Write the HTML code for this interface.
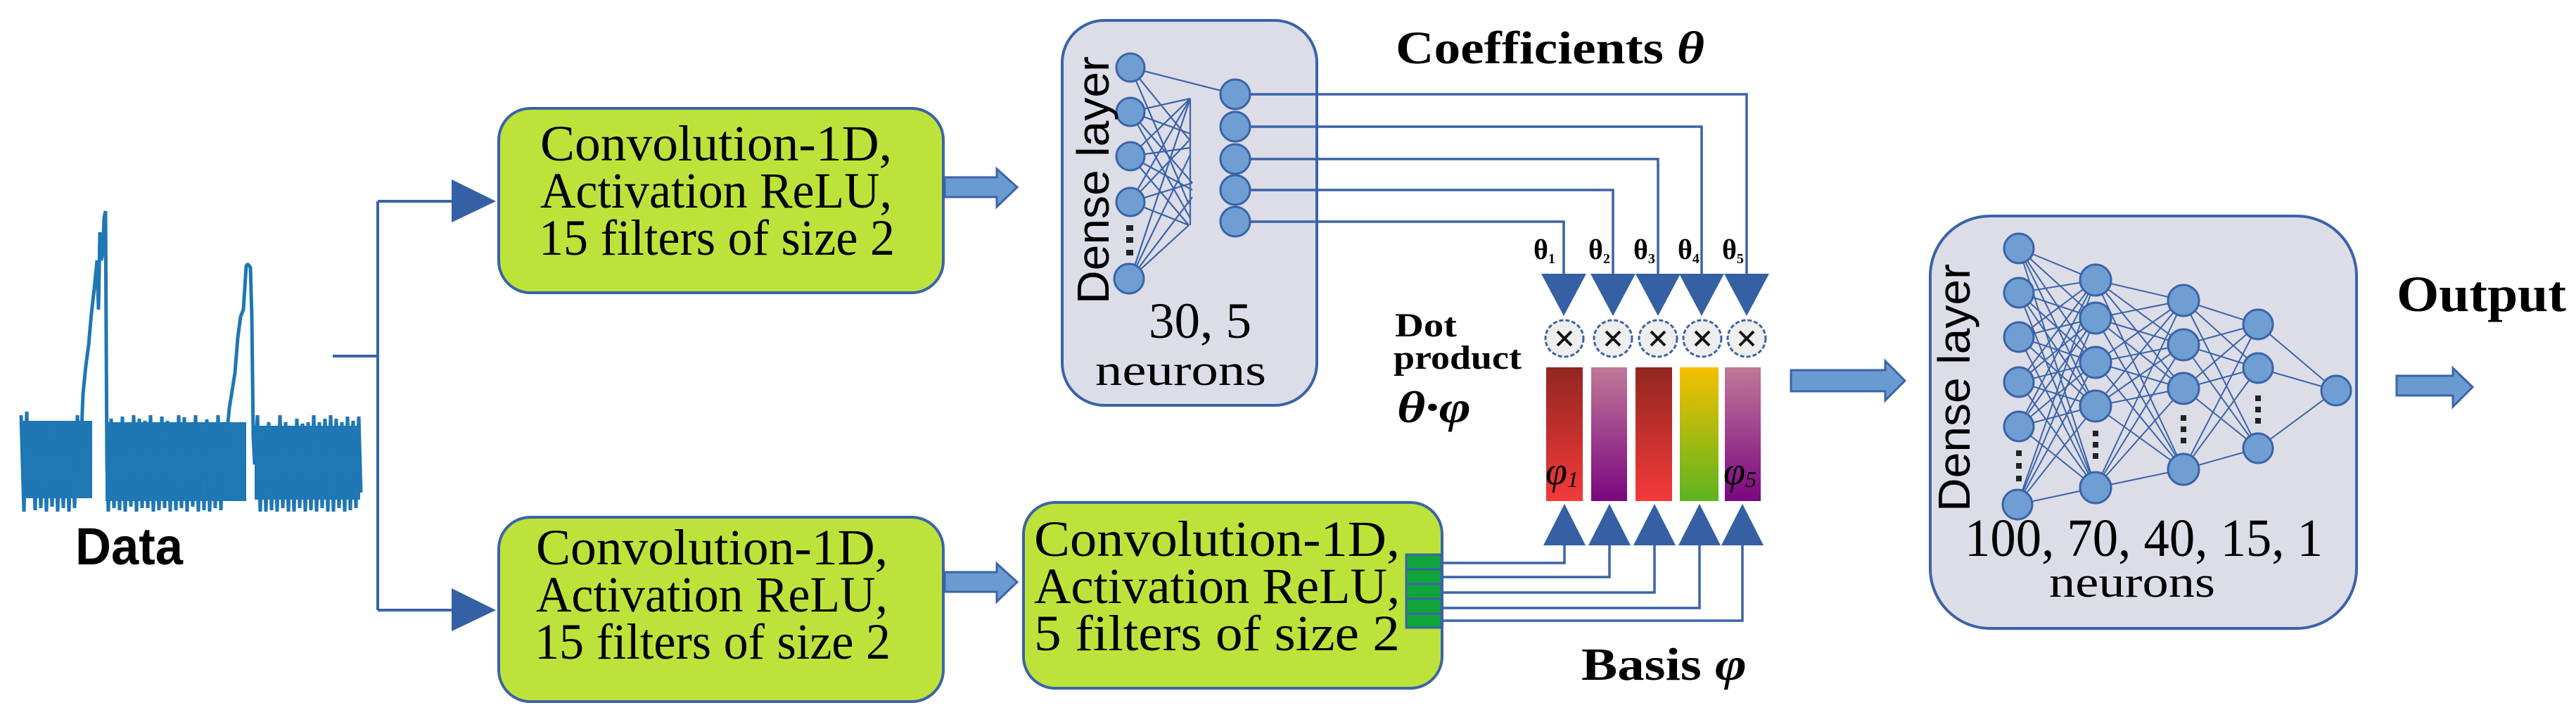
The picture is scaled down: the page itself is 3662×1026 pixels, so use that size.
<!DOCTYPE html>
<html><head><meta charset="utf-8"><style>
html,body{margin:0;padding:0;background:#fff;}
svg{display:block;}
.sr{font-family:"Liberation Serif",serif;fill:#000;}
.ss{font-family:"Liberation Sans",sans-serif;fill:#000;}
</style></head><body>
<svg width="3662" height="1026" viewBox="0 0 3662 1026" xmlns="http://www.w3.org/2000/svg">
<defs>
<linearGradient id="gr" x1="0" y1="0" x2="0" y2="1"><stop offset="0" stop-color="#922620"/><stop offset="1" stop-color="#f53a3a"/></linearGradient>
<linearGradient id="gp" x1="0" y1="0" x2="0" y2="1"><stop offset="0" stop-color="#c07898"/><stop offset="1" stop-color="#7a0780"/></linearGradient>
<linearGradient id="gy" x1="0" y1="0" x2="0" y2="1"><stop offset="0" stop-color="#f5c000"/><stop offset="1" stop-color="#5cb420"/></linearGradient>
</defs>

<!-- Data signal -->
<g fill="#1f77b4">
<rect x="31" y="598" width="100" height="110"/>
<rect x="150" y="600" width="200" height="112"/>
<rect x="362" y="605" width="150" height="105"/>
</g>
<polyline fill="none" stroke="#1f77b4" stroke-width="5" stroke-linejoin="bevel" points="30,590 34,727 38,585 42,700 46,620 50,725 54,602 58,722 62,612 66,727 70,600 74,720 78,620 82,727 86,605 90,722 94,600 98,727 102,612 106,722 110,590 114,660 118,560 122,520 126,490 130,445 134,410 138,370 140,440 142,330 144,370 146,360 148,310 150,300 152,660 154,727 158,595 162,722 166,600 170,725 174,592 178,727 182,600 186,720 190,590 194,727 198,595 202,722 206,598 210,722 214,590 218,727 222,600 226,725 230,592 234,722 238,598 242,727 246,600 250,725 254,590 258,722 262,593 266,727 270,600 274,720 278,590 282,727 286,600 290,725 294,596 298,727 302,600 306,722 310,590 314,725 318,600 322,620 326,580 330,555 334,530 338,480 342,450 346,440 350,378 352,375 356,380 358,450 360,620 362,660 366,590 370,727 374,610 378,727 382,600 386,725 390,612 394,727 398,590 402,722 406,600 410,727 414,610 418,727 422,595 426,722 430,602 434,727 438,600 442,725 446,590 450,727 454,600 458,722 462,595 466,727 470,590 474,727 478,595 482,722 486,600 490,727 494,592 498,725 502,598 506,722 510,592 513,700"/>
<text class="ss" x="107" y="802" font-size="74" font-weight="bold" textLength="153" lengthAdjust="spacingAndGlyphs">Data</text>

<!-- branch connector -->
<g stroke="#3b63a8" stroke-width="4" fill="none">
<line x1="473" y1="506" x2="539" y2="506"/>
<line x1="537" y1="286" x2="537" y2="867"/>
<line x1="537" y1="286" x2="650" y2="286"/>
<line x1="537" y1="867" x2="650" y2="867"/>
</g>
<polygon points="642,255 705,286 642,316" fill="#3560a3"/>
<polygon points="642,836 705,867 642,897" fill="#3560a3"/>

<!-- green boxes -->
<g fill="#bde33b" stroke="#3b63a8" stroke-width="4">
<rect x="709" y="154" width="632" height="262" rx="45"/>
<rect x="709" y="735" width="632" height="262" rx="45"/>
<rect x="1455" y="714" width="595" height="264" rx="45"/>
</g>
<g class="sr" font-size="72">
<text x="768" y="228" textLength="500" lengthAdjust="spacingAndGlyphs">Convolution-1D,</text>
<text x="768" y="295" textLength="500" lengthAdjust="spacingAndGlyphs">Activation ReLU,</text>
<text x="766" y="362" textLength="506" lengthAdjust="spacingAndGlyphs">15 filters of size 2</text>
<text x="762" y="802" textLength="500" lengthAdjust="spacingAndGlyphs">Convolution-1D,</text>
<text x="762" y="869" textLength="500" lengthAdjust="spacingAndGlyphs">Activation ReLU,</text>
<text x="760" y="936" textLength="506" lengthAdjust="spacingAndGlyphs">15 filters of size 2</text>
<text x="1470" y="790" textLength="520" lengthAdjust="spacingAndGlyphs">Convolution-1D,</text>
<text x="1470" y="857" textLength="520" lengthAdjust="spacingAndGlyphs">Activation ReLU,</text>
<text x="1470" y="924" textLength="520" lengthAdjust="spacingAndGlyphs">5 filters of size 2</text>
</g>
<!-- green connector -->
<rect x="1999" y="788" width="50" height="104" fill="#10a53a" stroke="#3b63a8" stroke-width="3"/>
<g stroke="#3b63a8" stroke-width="3"><line x1="1999" y1="809" x2="2049" y2="809"/><line x1="1999" y1="830" x2="2049" y2="830"/><line x1="1999" y1="851" x2="2049" y2="851"/><line x1="1999" y1="872" x2="2049" y2="872"/></g>

<!-- block arrows -->
<g fill="#6a9bd0" stroke="#3b63a8" stroke-width="3">
<polygon points="1343,252 1417,252 1417,240 1446,266 1417,294 1417,280 1343,280"/>
<polygon points="1343,813 1417,813 1417,801 1446,827 1417,855 1417,841 1343,841"/>
<polygon points="2546,526 2680,526 2680,513 2708,541 2680,569 2680,556 2546,556"/>
<polygon points="3407,534 3487,534 3487,523 3515,550 3487,578 3487,562 3407,562"/>
</g>

<!-- Dense box 1 -->
<rect x="1510" y="29" width="362" height="547" rx="60" fill="#dddde8" stroke="#3b63a8" stroke-width="4"/>
<g stroke="#3b63a8" stroke-width="2.2">
<line x1="1607" y1="96" x2="1756" y2="134"/><line x1="1607" y1="96" x2="1692" y2="200"/><line x1="1607" y1="96" x2="1690" y2="290"/>
<line x1="1607" y1="159" x2="1692" y2="140"/><line x1="1607" y1="159" x2="1692" y2="190"/><line x1="1607" y1="159" x2="1695" y2="260"/><line x1="1607" y1="159" x2="1692" y2="310"/>
<line x1="1607" y1="222" x2="1692" y2="140"/><line x1="1607" y1="222" x2="1692" y2="210"/><line x1="1607" y1="222" x2="1695" y2="270"/><line x1="1607" y1="222" x2="1690" y2="320"/>
<line x1="1607" y1="287" x2="1692" y2="140"/><line x1="1607" y1="287" x2="1690" y2="200"/><line x1="1607" y1="287" x2="1695" y2="260"/><line x1="1607" y1="287" x2="1690" y2="320"/>
<line x1="1607" y1="396" x2="1692" y2="140"/><line x1="1607" y1="396" x2="1692" y2="220"/><line x1="1607" y1="396" x2="1695" y2="280"/><line x1="1607" y1="396" x2="1690" y2="320"/>
<line x1="1692" y1="140" x2="1692" y2="320"/>
</g>
<g fill="#6f9fd2" stroke="#3b63a8" stroke-width="3">
<circle cx="1607" cy="96" r="20"/><circle cx="1607" cy="159" r="20"/><circle cx="1607" cy="222" r="20"/><circle cx="1607" cy="287" r="20"/><circle cx="1605" cy="396" r="21"/>
<circle cx="1756" cy="134" r="21"/><circle cx="1756" cy="180" r="21"/><circle cx="1756" cy="226" r="21"/><circle cx="1756" cy="270" r="21"/><circle cx="1756" cy="315" r="21"/>
</g>
<g fill="#222"><rect x="1601" y="320" width="10" height="8"/><rect x="1601" y="337" width="10" height="8"/><rect x="1601" y="355" width="10" height="8"/></g>
<text class="ss" transform="translate(1576,432) rotate(-90)" font-size="64" textLength="352" lengthAdjust="spacingAndGlyphs">Dense layer</text>
<text class="sr" x="1633" y="480" font-size="72" textLength="146" lengthAdjust="spacingAndGlyphs">30, 5</text>
<text class="sr" x="1557" y="547" font-size="62" textLength="243" lengthAdjust="spacingAndGlyphs">neurons</text>

<!-- coefficient lines -->
<g stroke="#3b63a8" stroke-width="3.5" fill="none">
<polyline points="1777,315 2223,315 2223,395"/>
<polyline points="1777,270 2293,270 2293,395"/>
<polyline points="1777,226 2357,226 2357,395"/>
<polyline points="1777,180 2419,180 2419,395"/>
<polyline points="1777,134 2483,134 2483,395"/>
<polyline points="2049,800 2224,800 2224,770"/>
<polyline points="2049,820 2288,820 2288,770"/>
<polyline points="2049,842 2352,842 2352,770"/>
<polyline points="2049,864 2416,864 2416,770"/>
<polyline points="2049,882 2477,882 2477,770"/>
</g>
<text class="sr" x="1984" y="90" font-size="66" font-weight="bold" textLength="439" lengthAdjust="spacingAndGlyphs">Coefficients <tspan font-style="italic">θ</tspan></text>

<!-- theta labels -->
<g class="sr" font-size="40" font-weight="bold">
<text x="2180" y="368">θ<tspan font-size="20" dy="6">1</tspan></text>
<text x="2258" y="368">θ<tspan font-size="20" dy="6">2</tspan></text>
<text x="2322" y="368">θ<tspan font-size="20" dy="6">3</tspan></text>
<text x="2385" y="368">θ<tspan font-size="20" dy="6">4</tspan></text>
<text x="2448" y="368">θ<tspan font-size="20" dy="6">5</tspan></text>
</g>
<!-- down triangles -->
<g fill="#3560a3">
<polygon points="2191,389 2255,389 2223,449"/>
<polygon points="2261,389 2325,389 2293,449"/>
<polygon points="2325,389 2389,389 2357,449"/>
<polygon points="2387,389 2451,389 2419,449"/>
<polygon points="2451,389 2515,389 2483,449"/>
</g>
<!-- multiply circles -->
<g fill="#eeeeee" stroke="#3b63a8" stroke-width="3" stroke-dasharray="6 3">
<ellipse cx="2224" cy="481" rx="27" ry="26"/><ellipse cx="2293" cy="481" rx="27" ry="26"/><ellipse cx="2357" cy="481" rx="27" ry="26"/><ellipse cx="2420" cy="481" rx="27" ry="26"/><ellipse cx="2483" cy="481" rx="27" ry="26"/>
</g>
<g stroke="#111" stroke-width="4">
<path d="M2214,471 l20,20 M2234,471 l-20,20"/><path d="M2283,471 l20,20 M2303,471 l-20,20"/><path d="M2347,471 l20,20 M2367,471 l-20,20"/><path d="M2410,471 l20,20 M2430,471 l-20,20"/><path d="M2473,471 l20,20 M2493,471 l-20,20"/>
</g>
<!-- bars -->
<rect x="2198" y="522" width="52" height="190" fill="url(#gr)"/>
<rect x="2262" y="522" width="51" height="190" fill="url(#gp)"/>
<rect x="2325" y="522" width="52" height="190" fill="url(#gr)"/>
<rect x="2388" y="522" width="55" height="190" fill="url(#gy)"/>
<rect x="2452" y="522" width="51" height="190" fill="url(#gp)"/>
<text class="sr" x="2197" y="688" font-size="56" font-style="italic">φ<tspan font-size="32" dy="4">1</tspan></text>
<text class="sr" x="2450" y="688" font-size="56" font-style="italic" fill="#300030">φ<tspan font-size="32" dy="4">5</tspan></text>
<!-- up triangles -->
<g fill="#3560a3">
<polygon points="2194,775 2254,775 2224,716"/>
<polygon points="2258,775 2318,775 2288,716"/>
<polygon points="2322,775 2382,775 2352,716"/>
<polygon points="2386,775 2446,775 2416,716"/>
<polygon points="2447,775 2507,775 2477,716"/>
</g>
<g class="sr" font-weight="bold">
<text x="1983" y="478" font-size="48" textLength="88" lengthAdjust="spacingAndGlyphs">Dot</text>
<text x="1981" y="524" font-size="48" textLength="182" lengthAdjust="spacingAndGlyphs">product</text>
<text x="1986" y="600" font-size="64" font-style="italic" textLength="105" lengthAdjust="spacingAndGlyphs">θ·φ</text>
<text x="2248" y="966" font-size="66" textLength="235" lengthAdjust="spacingAndGlyphs">Basis <tspan font-style="italic">φ</tspan></text>
<text x="3407" y="442" font-size="72" textLength="241" lengthAdjust="spacingAndGlyphs">Output</text>
</g>

<!-- Dense box 2 -->
<rect x="2744" y="307" width="606" height="586" rx="85" fill="#dddde8" stroke="#3b63a8" stroke-width="4"/>
<g stroke="#3b63a8" stroke-width="2">
<path d="M2870,353 L2979,398 M2870,353 L2979,452 M2870,353 L2979,515 M2870,353 L2979,577 M2870,353 L2979,693
M2870,416 L2979,398 M2870,416 L2979,452 M2870,416 L2979,515 M2870,416 L2979,577 M2870,416 L2979,693
M2870,479 L2979,398 M2870,479 L2979,452 M2870,479 L2979,515 M2870,479 L2979,577 M2870,479 L2979,693
M2870,543 L2979,398 M2870,543 L2979,452 M2870,543 L2979,515 M2870,543 L2979,577 M2870,543 L2979,693
M2870,606 L2979,398 M2870,606 L2979,452 M2870,606 L2979,515 M2870,606 L2979,577 M2870,606 L2979,693
M2868,717 L2979,398 M2868,717 L2979,452 M2868,717 L2979,515 M2868,717 L2979,577 M2868,717 L2979,693"/>
<path d="M2979,398 L3104,427 M2979,398 L3104,490 M2979,398 L3104,552 M2979,398 L3104,667
M2979,452 L3104,427 M2979,452 L3104,490 M2979,452 L3104,552 M2979,452 L3104,667
M2979,515 L3104,427 M2979,515 L3104,490 M2979,515 L3104,552 M2979,515 L3104,667
M2979,577 L3104,427 M2979,577 L3104,490 M2979,577 L3104,552 M2979,577 L3104,667
M2979,693 L3104,427 M2979,693 L3104,490 M2979,693 L3104,552 M2979,693 L3104,667"/>
<path d="M3104,427 L3210,461 M3104,427 L3210,523 M3104,427 L3210,637
M3104,490 L3210,461 M3104,490 L3210,523 M3104,490 L3210,637
M3104,552 L3210,461 M3104,552 L3210,523 M3104,552 L3210,637
M3104,667 L3210,461 M3104,667 L3210,523 M3104,667 L3210,637"/>
<path d="M3210,461 L3321,555 M3210,523 L3321,555 M3210,637 L3321,555"/>
</g>
<g fill="#6f9fd2" stroke="#3b63a8" stroke-width="3">
<circle cx="2870" cy="353" r="21"/><circle cx="2870" cy="416" r="21"/><circle cx="2870" cy="479" r="21"/><circle cx="2870" cy="543" r="21"/><circle cx="2870" cy="606" r="21"/><circle cx="2868" cy="717" r="21"/>
<circle cx="2979" cy="398" r="22"/><circle cx="2979" cy="452" r="22"/><circle cx="2979" cy="515" r="22"/><circle cx="2979" cy="577" r="22"/><circle cx="2979" cy="693" r="22"/>
<circle cx="3104" cy="427" r="22"/><circle cx="3104" cy="490" r="22"/><circle cx="3104" cy="552" r="22"/><circle cx="3104" cy="667" r="22"/>
<circle cx="3210" cy="461" r="21"/><circle cx="3210" cy="523" r="21"/><circle cx="3210" cy="637" r="21"/>
<circle cx="3321" cy="555" r="21"/>
</g>
<g fill="#222">
<rect x="2866" y="640" width="8" height="8"/><rect x="2866" y="658" width="8" height="8"/><rect x="2866" y="676" width="8" height="8"/>
<rect x="2975" y="612" width="8" height="8"/><rect x="2975" y="628" width="8" height="8"/><rect x="2975" y="644" width="8" height="8"/>
<rect x="3100" y="590" width="8" height="8"/><rect x="3100" y="606" width="8" height="8"/><rect x="3100" y="622" width="8" height="8"/>
<rect x="3206" y="562" width="8" height="8"/><rect x="3206" y="578" width="8" height="8"/><rect x="3206" y="594" width="8" height="8"/>
</g>
<text class="ss" transform="translate(2800,727) rotate(-90)" font-size="64" textLength="352" lengthAdjust="spacingAndGlyphs">Dense layer</text>
<text class="sr" x="2793" y="790" font-size="76" textLength="509" lengthAdjust="spacingAndGlyphs">100, 70, 40, 15, 1</text>
<text class="sr" x="2913" y="848" font-size="62" textLength="236" lengthAdjust="spacingAndGlyphs">neurons</text>
</svg>
</body></html>
